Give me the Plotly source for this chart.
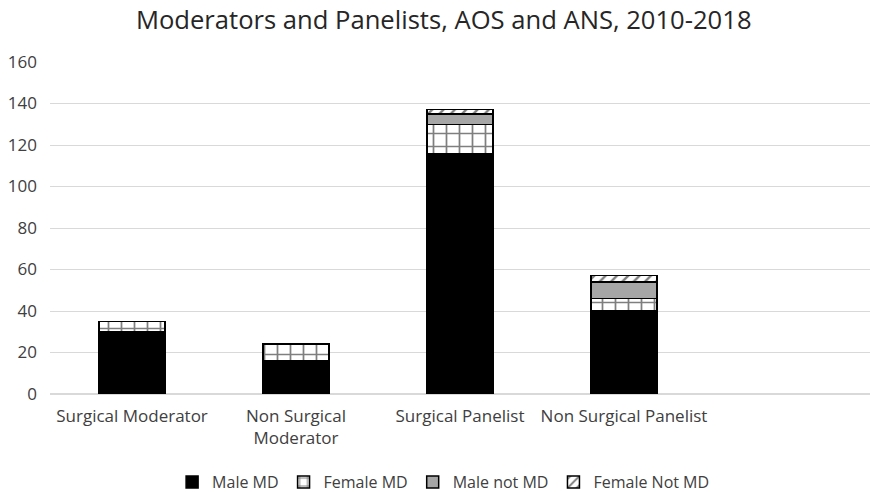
import plotly.graph_objects as go

categories = ["Surgical Moderator", "Non Surgical<br>Moderator", "Surgical Panelist", "Non Surgical Panelist"]
male_md = [30, 16, 116, 40]
female_md = [5, 8, 14, 6]
male_not_md = [0, 0, 5, 8]
female_not_md = [0, 0, 2, 3]
y_ticks = [0, 20, 40, 60, 80, 100, 120, 140, 160]

font_family = "Open Sans, Noto Sans, sans-serif"
fig = go.Figure()
fig.add_trace(go.Bar(name="Male MD", x=categories, y=male_md,
                     marker=dict(color="black", line=dict(color="black", width=1.5))))
fig.add_trace(go.Bar(name="Female MD", x=categories, y=female_md,
                     marker=dict(color="white", line=dict(color="black", width=1.5),
                                 pattern=dict(shape="+", fgcolor="black", bgcolor="white",
                                              size=13, solidity=0.25))))
fig.add_trace(go.Bar(name="Male not MD", x=categories, y=male_not_md,
                     marker=dict(color="#a6a6a6", line=dict(color="black", width=1.5))))
fig.add_trace(go.Bar(name="Female Not MD", x=categories, y=female_not_md,
                     marker=dict(color="white", line=dict(color="black", width=1.5),
                                 pattern=dict(shape="/", fgcolor="black", bgcolor="white",
                                              size=8, solidity=0.3))))

fig.update_layout(
    barmode="stack",
    bargap=0.6,
    width=870, height=492,
    margin=dict(l=50, r=0, t=62, b=98, autoexpand=False),
    paper_bgcolor="white", plot_bgcolor="white",
    font=dict(family=font_family, color="#404040", size=16),
    title=dict(text="Moderators and Panelists, AOS and ANS, 2010-2018",
               x=0.51, xanchor="center", y=0.96, yanchor="middle",
               font=dict(size=25.6, color="#262626", family=font_family)),
    legend=dict(orientation="h", x=0.48, xanchor="center", yref="container",
                y=0.02, yanchor="middle",
                font=dict(size=16, color="#404040"), traceorder="normal",
                itemwidth=30),
    xaxis=dict(range=[-0.5, 4.5], showgrid=False, showline=False, ticks="",
               ticklabelstandoff=10, automargin=False,
               tickfont=dict(size=17, color="#404040")),
    yaxis=dict(range=[0, 160], tickvals=y_ticks, showgrid=True, gridcolor="#d9d9d9",
               gridwidth=1, zeroline=True, zerolinecolor="#d9d9d9", ticks="",
               ticklabelstandoff=12, automargin=False,
               tickfont=dict(size=17, color="#404040")),
)

fig.write_html("out.html")
